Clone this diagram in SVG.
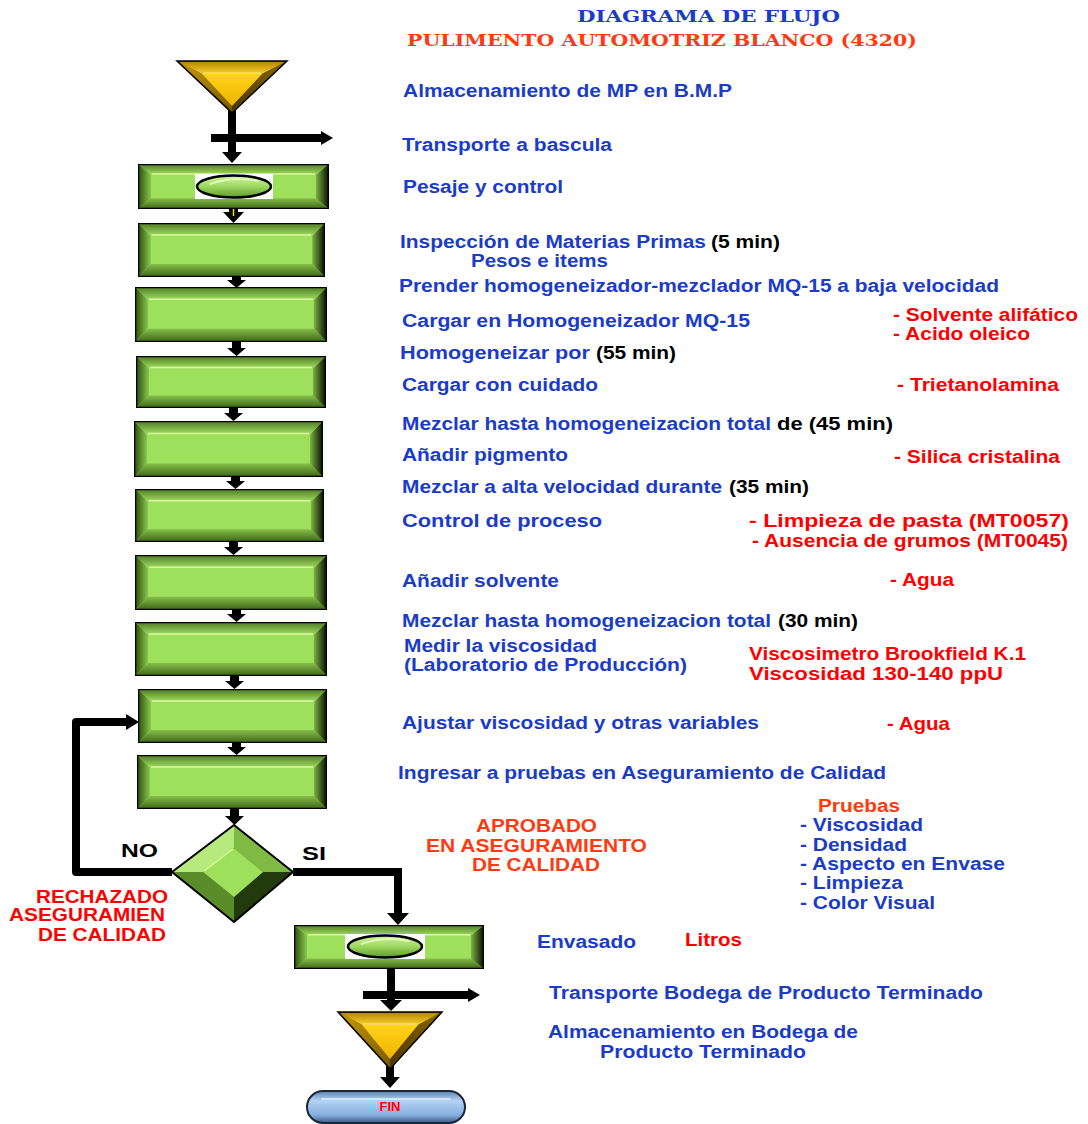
<svg xmlns="http://www.w3.org/2000/svg" xmlns:xlink="http://www.w3.org/1999/xlink" width="1088" height="1124" viewBox="0 0 1088 1124">
<style>
.t{font-family:"Liberation Sans",Arial,sans-serif;font-weight:bold;font-size:17.5px}
.s{font-family:"DejaVu Serif","Liberation Serif",serif;font-weight:bold;font-size:17px}
.b{fill:#1A3CC8}.r{fill:#FF0000}.o{fill:#FF3A10}.k{fill:#000}
.ln{fill:none;stroke:#000;stroke-width:8}
.hd{fill:#000}
</style>
<defs>
<linearGradient id="gTop" x1="0" y1="0" x2="0" y2="1"><stop offset="0" stop-color="#4E7A22"/><stop offset="1" stop-color="#A4E066"/></linearGradient>
<linearGradient id="gBot" x1="0" y1="0" x2="0" y2="1"><stop offset="0" stop-color="#86BE4A"/><stop offset="1" stop-color="#3A6416"/></linearGradient>
<linearGradient id="gLeft" x1="0" y1="0" x2="1" y2="0"><stop offset="0" stop-color="#2A4A0E"/><stop offset="1" stop-color="#88C84C"/></linearGradient>
<linearGradient id="gRight" x1="0" y1="0" x2="1" y2="0"><stop offset="0" stop-color="#7AB240"/><stop offset="1" stop-color="#050A02"/></linearGradient>
<linearGradient id="gOval" x1="0" y1="0" x2="0" y2="1"><stop offset="0" stop-color="#D4F5A0"/><stop offset="0.5" stop-color="#9CD860"/><stop offset="1" stop-color="#5E9A2E"/></linearGradient>
<linearGradient id="gTriTop" x1="0" y1="0" x2="0" y2="1"><stop offset="0" stop-color="#B88A00"/><stop offset="1" stop-color="#F8D030"/></linearGradient>
<linearGradient id="gTriL" x1="0" y1="0" x2="1" y2="1"><stop offset="0" stop-color="#C89A00"/><stop offset="1" stop-color="#7A5A00"/></linearGradient>
<linearGradient id="gTriR" x1="1" y1="0" x2="0" y2="1"><stop offset="0" stop-color="#8A6600"/><stop offset="1" stop-color="#4A3500"/></linearGradient>
<linearGradient id="gTriIn" x1="0" y1="0" x2="0" y2="1"><stop offset="0" stop-color="#FFD21A"/><stop offset="1" stop-color="#F0B400"/></linearGradient>
<linearGradient id="gPill" x1="0" y1="0" x2="0" y2="1"><stop offset="0" stop-color="#5A7FB0"/><stop offset="0.3" stop-color="#B4D2F4"/><stop offset="0.75" stop-color="#86AEDE"/><stop offset="1" stop-color="#3C5A86"/></linearGradient>
<symbol id="bev" viewBox="0 0 190 54" preserveAspectRatio="none">
<rect x="0" y="0" width="190" height="54" fill="#9EE05C"/>
<path d="M0,0H190L177,13H13Z" fill="url(#gTop)"/>
<path d="M0,54H190L177,41H13Z" fill="url(#gBot)"/>
<path d="M0,0L13,13V41L0,54Z" fill="url(#gLeft)"/>
<path d="M190,0L177,13V41L190,54Z" fill="url(#gRight)"/>
<line x1="14" y1="12" x2="176" y2="12" stroke="#D8FA9E" stroke-width="1.5" vector-effect="non-scaling-stroke"/>
<rect x="0" y="0" width="190" height="54" fill="none" stroke="#000" stroke-width="2.5" vector-effect="non-scaling-stroke"/>
</symbol>
</defs>
<rect width="1088" height="1124" fill="#fff"/>

<g id="title">
<text class="s b" x="577" y="22" textLength="263" lengthAdjust="spacingAndGlyphs">DIAGRAMA DE FLUJO</text>
<text class="s o" x="407" y="46" textLength="510" lengthAdjust="spacingAndGlyphs">PULIMENTO AUTOMOTRIZ BLANCO (4320)</text>
</g>

<g id="connectors">
<line class="ln" x1="232" y1="110" x2="232" y2="153"/>
<polygon class="hd" points="222,152 242,152 232,163"/>
<line class="ln" x1="211" y1="138" x2="322" y2="138" stroke-width="7"/>
<polygon class="hd" points="321,131 321,145 333,138"/>
<rect x="229" y="209" width="9" height="5" fill="#000"/>
<polygon class="hd" points="223,212 244,212 233.5,223"/>
<line x1="233.5" y1="205" x2="233.5" y2="216" stroke="#F2E000" stroke-width="1.5"/>
<g fill="#000">
<rect x="232" y="277" width="9" height="4"/><polygon points="227,280 246,280 236.5,288"/>
<rect x="232" y="342" width="9" height="7"/><polygon points="227,348 246,348 236.5,356"/>
<rect x="229" y="408" width="9" height="6"/><polygon points="224,413 243,413 233.5,421"/>
<rect x="231" y="477" width="9" height="5"/><polygon points="226,481 245,481 235.5,489"/>
<rect x="229" y="542" width="9" height="6"/><polygon points="224,547 243,547 233.5,555"/>
<rect x="232" y="610" width="9" height="5"/><polygon points="227,614 246,614 236.5,622"/>
<rect x="230" y="676" width="9" height="6"/><polygon points="225,681 244,681 234.5,689"/>
<rect x="232" y="743" width="9" height="5"/><polygon points="227,747 246,747 236.5,755"/>
<rect x="230" y="809" width="9" height="8"/><polygon points="225,816 244,816 234.5,825"/>
</g>
<polyline class="ln" points="172,872 76,872 76,722 128,722" stroke-linejoin="round"/>
<polygon class="hd" points="126,714 126,730 139,722"/>
<polyline class="ln" points="293,872 398,872 398,914"/>
<polygon class="hd" points="387,913 409,913 398,925"/>
<line class="ln" x1="391" y1="969" x2="391" y2="1001"/>
<polygon class="hd" points="380,1000 402,1000 391,1011"/>
<line class="ln" x1="363" y1="995" x2="469" y2="995" stroke-width="7"/>
<polygon class="hd" points="468,988 468,1002 480,995"/>
<line class="ln" x1="390" y1="1066" x2="390" y2="1078"/>
<polygon class="hd" points="380,1077 400,1077 390,1088"/>
</g>

<g id="n_almacen_mp">
<polygon points="177,61 287,61 232,113" fill="#6A4C00"/>
<polygon points="179,62 285,62 262,74 202,74" fill="url(#gTriTop)"/>
<polygon points="179,62 202,74 232,106 232,111" fill="url(#gTriL)"/>
<polygon points="285,62 262,74 232,106 232,111" fill="url(#gTriR)"/>
<polygon points="202,74 262,74 232,106" fill="url(#gTriIn)"/>
<line x1="203" y1="73" x2="261" y2="73" stroke="#FFE880" stroke-width="1.2"/>
<polygon points="177,61 287,61 232,113" fill="none" stroke="#000" stroke-width="1.5"/>
</g>

<g id="n_pesaje">
<use xlink:href="#bev" x="138" y="164" width="191" height="45"/>
<rect x="195" y="174" width="78" height="25" fill="#fff"/>
<ellipse cx="234" cy="186.5" rx="37" ry="11" fill="url(#gOval)" stroke="#000" stroke-width="2.5"/>
<path d="M210,184 Q234,176 258,181" fill="none" stroke="#EAFFC8" stroke-width="1.5"/>
</g>
<g id="n_inspeccion"><use xlink:href="#bev" x="138" y="223" width="187" height="54"/></g>
<g id="n_prender"><use xlink:href="#bev" x="135" y="287" width="192" height="55"/></g>
<g id="n_cargar"><use xlink:href="#bev" x="136" y="356" width="190" height="52"/></g>
<g id="n_mezclar1"><use xlink:href="#bev" x="134" y="421" width="189" height="56"/></g>
<g id="n_pigmento"><use xlink:href="#bev" x="135" y="489" width="189" height="53"/></g>
<g id="n_control"><use xlink:href="#bev" x="135" y="555" width="192" height="55"/></g>
<g id="n_solvente"><use xlink:href="#bev" x="135" y="622" width="192" height="54"/></g>
<g id="n_medir"><use xlink:href="#bev" x="138" y="689" width="189" height="54"/></g>
<g id="n_ingresar"><use xlink:href="#bev" x="137" y="755" width="190" height="54"/></g>

<g id="n_aprobado">
<polygon points="234,825 293,872 234,922 172,872" fill="#3E6418"/>
<polygon points="234,825 172,872 203,872 234,848" fill="#B6EA7C"/>
<polygon points="234,825 293,872 263,872 234,848" fill="#7FBA44"/>
<polygon points="172,872 234,922 234,897 203,872" fill="#5A8C2A"/>
<polygon points="293,872 234,922 234,897 263,872" fill="#223A0C"/>
<polygon points="234,848 263,872 234,897 203,872" fill="#9EE05C"/>
<line x1="204" y1="871" x2="233" y2="849" stroke="#D8FA9E" stroke-width="1.5"/>
<polygon points="234,825 293,872 234,922 172,872" fill="none" stroke="#000" stroke-width="2"/>
</g>

<g id="n_envasado">
<use xlink:href="#bev" x="294" y="925" width="190" height="44"/>
<rect x="345" y="934" width="80" height="25" fill="#fff"/>
<ellipse cx="385" cy="946.5" rx="37" ry="11" fill="url(#gOval)" stroke="#000" stroke-width="2.5"/>
<path d="M361,944 Q385,936 409,941" fill="none" stroke="#EAFFC8" stroke-width="1.5"/>
</g>

<g id="n_almacen_pt">
<polygon points="338,1012 442,1012 390,1069" fill="#6A4C00"/>
<polygon points="340,1013 440,1013 418,1025 362,1025" fill="url(#gTriTop)"/>
<polygon points="340,1013 362,1025 390,1059 390,1067" fill="url(#gTriL)"/>
<polygon points="440,1013 418,1025 390,1059 390,1067" fill="url(#gTriR)"/>
<polygon points="362,1025 418,1025 390,1059" fill="url(#gTriIn)"/>
<line x1="363" y1="1024" x2="417" y2="1024" stroke="#FFE880" stroke-width="1.2"/>
<polygon points="338,1012 442,1012 390,1069" fill="none" stroke="#000" stroke-width="1.5"/>
</g>

<g id="n_fin">
<rect x="307" y="1091" width="158" height="32" rx="16" fill="url(#gPill)" stroke="#1A2638" stroke-width="2"/>
<line x1="322" y1="1099" x2="450" y2="1099" stroke="#E6F2FF" stroke-width="1.5" stroke-linecap="round"/>
<text class="t r" x="390" y="1111" text-anchor="middle" style="font-size:13px">FIN</text>
</g>

<g id="labels">
<text class="t b" x="403" y="97" textLength="329" lengthAdjust="spacingAndGlyphs">Almacenamiento de MP en B.M.P</text>
<text class="t b" x="402" y="151" textLength="210" lengthAdjust="spacingAndGlyphs">Transporte a bascula</text>
<text class="t b" x="403" y="193" textLength="160" lengthAdjust="spacingAndGlyphs">Pesaje y control</text>
<text class="t b" x="400" y="248" textLength="306" lengthAdjust="spacingAndGlyphs">Inspección de Materias Primas</text>
<text class="t k" x="711" y="248" textLength="69" lengthAdjust="spacingAndGlyphs">(5 min)</text>
<text class="t b" x="471" y="267" textLength="137" lengthAdjust="spacingAndGlyphs">Pesos e items</text>
<text class="t b" x="399" y="292" textLength="600" lengthAdjust="spacingAndGlyphs">Prender homogeneizador-mezclador MQ-15 a baja velocidad</text>
<text class="t b" x="402" y="327" textLength="348" lengthAdjust="spacingAndGlyphs">Cargar  en Homogeneizador MQ-15</text>
<text class="t r" x="893" y="321" textLength="185" lengthAdjust="spacingAndGlyphs">- Solvente alifático</text>
<text class="t r" x="893" y="340" textLength="137" lengthAdjust="spacingAndGlyphs">- Acido oleico</text>
<text class="t b" x="400" y="359" textLength="190" lengthAdjust="spacingAndGlyphs">Homogeneizar  por</text>
<text class="t k" x="596" y="359" textLength="80" lengthAdjust="spacingAndGlyphs">(55 min)</text>
<text class="t b" x="402" y="391" textLength="196" lengthAdjust="spacingAndGlyphs">Cargar con cuidado</text>
<text class="t r" x="897" y="391" textLength="162" lengthAdjust="spacingAndGlyphs">- Trietanolamina</text>
<text class="t b" x="402" y="430" textLength="369" lengthAdjust="spacingAndGlyphs">Mezclar hasta homogeneizacion total</text>
<text class="t k" x="777" y="430" textLength="116" lengthAdjust="spacingAndGlyphs">de  (45 min)</text>
<text class="t b" x="402" y="461" textLength="166" lengthAdjust="spacingAndGlyphs">Añadir pigmento</text>
<text class="t r" x="894" y="463" textLength="166" lengthAdjust="spacingAndGlyphs">- Silica cristalina</text>
<text class="t b" x="402" y="493" textLength="320" lengthAdjust="spacingAndGlyphs">Mezclar a alta velocidad durante</text>
<text class="t k" x="729" y="493" textLength="80" lengthAdjust="spacingAndGlyphs">(35 min)</text>
<text class="t b" x="402" y="527" textLength="200" lengthAdjust="spacingAndGlyphs">Control de proceso</text>
<text class="t r" x="749" y="527" textLength="320" lengthAdjust="spacingAndGlyphs">- Limpieza de pasta  (MT0057)</text>
<text class="t r" x="752" y="547" textLength="316" lengthAdjust="spacingAndGlyphs">- Ausencia de grumos (MT0045)</text>
<text class="t b" x="402" y="587" textLength="157" lengthAdjust="spacingAndGlyphs">Añadir solvente</text>
<text class="t r" x="890" y="586" textLength="64" lengthAdjust="spacingAndGlyphs">- Agua</text>
<text class="t b" x="402" y="627" textLength="369" lengthAdjust="spacingAndGlyphs">Mezclar hasta homogeneizacion total</text>
<text class="t k" x="778" y="627" textLength="80" lengthAdjust="spacingAndGlyphs">(30 min)</text>
<text class="t b" x="404" y="652" textLength="193" lengthAdjust="spacingAndGlyphs">Medir la viscosidad</text>
<text class="t b" x="404" y="671" textLength="283" lengthAdjust="spacingAndGlyphs">(Laboratorio de Producción)</text>
<text class="t r" x="749" y="660" textLength="277" lengthAdjust="spacingAndGlyphs">Viscosimetro Brookfield K.1</text>
<text class="t r" x="749" y="680" textLength="254" lengthAdjust="spacingAndGlyphs">Viscosidad 130-140 ppU</text>
<text class="t b" x="402" y="729" textLength="357" lengthAdjust="spacingAndGlyphs">Ajustar viscosidad y otras variables</text>
<text class="t r" x="887" y="730" textLength="63" lengthAdjust="spacingAndGlyphs">- Agua</text>
<text class="t b" x="398" y="779" textLength="488" lengthAdjust="spacingAndGlyphs">Ingresar a pruebas en Aseguramiento de Calidad</text>
<text class="t o" x="476" y="832" textLength="121" lengthAdjust="spacingAndGlyphs">APROBADO</text>
<text class="t o" x="426" y="852" textLength="221" lengthAdjust="spacingAndGlyphs">EN ASEGURAMIENTO</text>
<text class="t o" x="472" y="871" textLength="128" lengthAdjust="spacingAndGlyphs">DE CALIDAD</text>
<text class="t o" x="818" y="812" textLength="82" lengthAdjust="spacingAndGlyphs">Pruebas</text>
<text class="t b" x="800" y="831" textLength="123" lengthAdjust="spacingAndGlyphs">- Viscosidad</text>
<text class="t b" x="800" y="851" textLength="107" lengthAdjust="spacingAndGlyphs">- Densidad</text>
<text class="t b" x="800" y="870" textLength="205" lengthAdjust="spacingAndGlyphs">- Aspecto en Envase</text>
<text class="t b" x="800" y="889" textLength="103" lengthAdjust="spacingAndGlyphs">- Limpieza</text>
<text class="t b" x="800" y="909" textLength="135" lengthAdjust="spacingAndGlyphs">- Color Visual</text>
<text class="t k" x="121" y="857" textLength="37" lengthAdjust="spacingAndGlyphs">NO</text>
<text class="t k" x="302" y="860" textLength="24" lengthAdjust="spacingAndGlyphs">SI</text>
<text class="t r" x="36" y="903" textLength="132" lengthAdjust="spacingAndGlyphs">RECHAZADO</text>
<text class="t r" x="9" y="921" textLength="156" lengthAdjust="spacingAndGlyphs">ASEGURAMIEN</text>
<text class="t r" x="38" y="941" textLength="128" lengthAdjust="spacingAndGlyphs">DE CALIDAD</text>
<text class="t b" x="537" y="948" textLength="99" lengthAdjust="spacingAndGlyphs">Envasado</text>
<text class="t r" x="685" y="946" textLength="57" lengthAdjust="spacingAndGlyphs">Litros</text>
<text class="t b" x="549" y="999" textLength="434" lengthAdjust="spacingAndGlyphs">Transporte Bodega de Producto Terminado</text>
<text class="t b" x="548" y="1038" textLength="310" lengthAdjust="spacingAndGlyphs">Almacenamiento en Bodega de</text>
<text class="t b" x="600" y="1058" textLength="206" lengthAdjust="spacingAndGlyphs">Producto Terminado</text>
</g>
</svg>
